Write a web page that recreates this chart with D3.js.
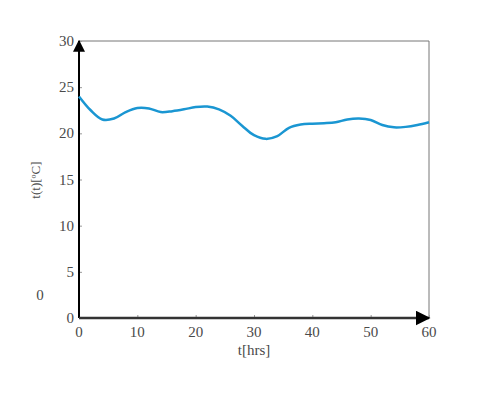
<!DOCTYPE html>
<html>
<head>
<meta charset="utf-8">
<script src="https://cdn.jsdelivr.net/npm/d3@7"></script>
<style>
  body { margin: 0; background: #fff; }
  svg text { font-family: "Liberation Serif", serif; fill: #4a4a4a; }
</style>
</head>
<body>
<svg id="chart" width="477" height="393"></svg>
<script>
'use strict'

// hours and temperature
const hours = [0, 2, 4, 6, 8, 10, 12, 14, 16, 18, 20, 22, 24, 26, 28, 30,
               32, 34, 36, 38, 40, 42, 44, 46, 48, 50, 52, 54, 56, 58, 60]
const temps = [24.0, 22.5, 21.5, 21.6, 22.3, 22.75, 22.7, 22.3, 22.4, 22.6, 22.85, 22.9,
               22.6, 21.9, 20.8, 19.8, 19.4, 19.7, 20.6, 20.95, 21.05, 21.1, 21.2, 21.5,
               21.6, 21.45, 20.9, 20.65, 20.7, 20.9, 21.2]
const xTicks = [0, 10, 20, 30, 40, 50, 60]
const yTicks = [0, 5, 10, 15, 20, 25, 30]

function wrapper(){
	let svg = d3.select('#chart')
	let left = 79, right = 429, top = 41, bottom = 318

	let x = d3.scaleLinear().domain([0, 60]).range([left, right])
	let y = d3.scaleLinear().domain([0, 30]).range([bottom, top])

	let defs = svg.append('defs')
	defs.append('marker')
		.attr('id', 'arrow')
		.attr('viewBox', '0 0 10 10')
		.attr('refX', 9).attr('refY', 5)
		.attr('markerWidth', 6).attr('markerHeight', 6)
		.attr('markerUnits', 'strokeWidth')
		.attr('orient', 'auto')
		.append('path').attr('d', 'M0,0 L10,5 L0,10 Z').attr('fill', '#000')

	// box top and right
	svg.append('path')
		.attr('d', `M${left},${top}H${right}V${bottom}`)
		.attr('fill', 'none').attr('stroke', '#777').attr('stroke-width', 1)

	// ticks (inward)
	let xAxis = svg.append('g').attr('transform', `translate(0,${bottom})`)
		.call(d3.axisTop(x).tickValues(xTicks).tickSize(3).tickFormat(''))
	xAxis.select('.domain').remove()
	xAxis.selectAll('line').attr('stroke', '#999')
	let yAxis = svg.append('g').attr('transform', `translate(${left},0)`)
		.call(d3.axisRight(y).tickValues(yTicks).tickSize(3).tickFormat(''))
	yAxis.select('.domain').remove()
	yAxis.selectAll('line').attr('stroke', '#999')

	svg.selectAll('.xlab').data(xTicks).join('text')
		.attr('x', d => x(d)).attr('y', bottom + 19)
		.attr('text-anchor', 'middle').attr('font-size', 15)
		.text(d => d)
	svg.selectAll('.ylab').data(yTicks).join('text')
		.attr('x', left - 5).attr('y', d => y(d) + 5)
		.attr('text-anchor', 'end').attr('font-size', 15)
		.text(d => d)

	// axes with arrows
	svg.append('line')
		.attr('x1', left).attr('y1', bottom).attr('x2', left).attr('y2', top)
		.attr('stroke', '#000').attr('stroke-width', 2).attr('marker-end', 'url(#arrow)')
	svg.append('line')
		.attr('x1', left).attr('y1', bottom).attr('x2', right).attr('y2', bottom)
		.attr('stroke', '#333').attr('stroke-width', 2.5).attr('marker-end', 'url(#arrow)')

	let line = d3.line()
		.x((d, i) => x(hours[i]))
		.y(d => y(d))
		.curve(d3.curveCatmullRom)
	svg.append('path')
		.attr('d', line(temps))
		.attr('fill', 'none').attr('stroke', '#1a96d2').attr('stroke-width', 2.5)

	svg.append('text')
		.attr('x', (left + right) / 2).attr('y', bottom + 37)
		.attr('text-anchor', 'middle').attr('font-size', 15)
		.text('t[hrs]')
	svg.append('text')
		.attr('transform', `translate(40,180) rotate(-90)`)
		.attr('text-anchor', 'middle').attr('font-size', 13)
		.text('t(t)[ºC]')
	svg.append('text')
		.attr('x', 40).attr('y', 300)
		.attr('text-anchor', 'middle').attr('font-size', 15)
		.text('0')
}

wrapper()
</script>
</body>
</html>
